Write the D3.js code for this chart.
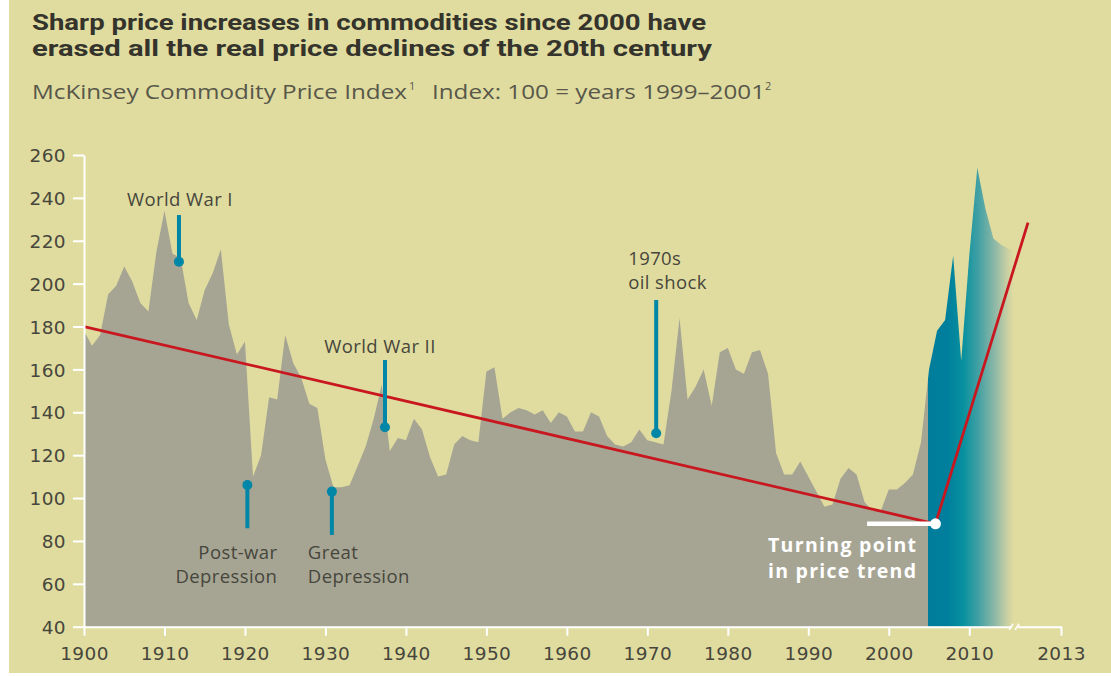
<!DOCTYPE html>
<html>
<head>
<meta charset="utf-8">
<script src="https://cdn.jsdelivr.net/npm/d3@7"></script>
<style>
  html, body { margin: 0; padding: 0; background: #ffffff; }
  svg { display: block; }
</style>
</head>
<body>
<script>
// ---------------- DATA ----------------
const years = [
  1900,1901,1902,1903,1904,1905,1906,1907,1908,1909,
  1910,1911,1912,1913,1914,1915,1916,1917,1918,1919,
  1920,1921,1922,1923,1924,1925,1926,1927,1928,1929,
  1930,1931,1932,1933,1934,1935,1936,1937,1938,1939,
  1940,1941,1942,1943,1944,1945,1946,1947,1948,1949,
  1950,1951,1952,1953,1954,1955,1956,1957,1958,1959,
  1960,1961,1962,1963,1964,1965,1966,1967,1968,1969,
  1970,1971,1972,1973,1974,1975,1976,1977,1978,1979,
  1980,1981,1982,1983,1984,1985,1986,1987,1988,1989,
  1990,1991,1992,1993,1994,1995,1996,1997,1998,1999,
  2000,2001,2002,2003,2004,2005,2006,2007,2008,2009,
  2010,2011,2012,2013,2014,2015
];
const priceIndex = [
  178,171,176,195,199,208,201,191,187,215,
  234,214,212,191,183,197,205,216,181,167,
  173,110,120,147,146,176,163,156,144,142,
  118,105,105,106,115,124,137,153,122,128,
  127,137,132,119,110,111,125,129,127,126,
  159,161,137,140,142,141,139,141,135,140,
  138,131,131,140,138,129,125,124,126,132,
  127,126,125,150,184,146,152,160,143,168,
  170,160,158,168,169,158,121,111,111,117,
  110,103,96,97,109,114,111,98,94,94,
  104,104,107,111,126,160,178,183,213,164,
  213,254,235,221,218,216
];

// Trend line (red): long decline, then turning point and sharp rise
const trendYears  = [1900, 2005.8, 2017.3];
const trendValues = [180, 88, 228.5];

// Turning point marker
const turnStartYear = 1997.3;
const turnYear = 2005.8;
const turnValue = 88;

// Axis ticks
const yTickValues = [40,60,80,100,120,140,160,180,200,220,240,260];
const xTickValues = [1900,1910,1920,1930,1940,1950,1960,1970,1980,1990,2000,2010,2021.4];
const xTickLabels = ["1900","1910","1920","1930","1940","1950","1960","1970","1980","1990","2000","2010","2013"];
const axisBreakYear = 2015.7;
const recentStartYear = 2004.85;

// Annotations: year of the marker, value of the dot, value of the line's other end
const annYears   = [1911.8, 1920.3, 1930.8, 1937.4, 1971.1];
const annDots    = [210.2, 106.1, 103.0, 133.0, 130.2];
const annEnds    = [232.0, 85.9, 82.8, 164.4, 192.4];
const annLabels  = [["World War I"], ["Post-war","Depression"], ["Great","Depression"], ["World War II"], ["1970s","oil shock"]];

const titleLines = ["Sharp price increases in commodities since 2000 have",
                    "erased all the real price declines of the 20th century"];
const subtitleA = "McKinsey Commodity Price Index";
const subtitleB = "Index: 100 = years 1999\u20132001";
const turnLabel = ["Turning point", "in price trend"];

// ---------------- STYLE ----------------
const W = 1111, H = 676;
const BG = "#e0dc9f";
const GRAY = "#a6a594";
const TEAL = "#0086a6";
const RED = "#c8171f";
const TEXT = "#47463c";

const svg = d3.select("body").append("svg").attr("width", W).attr("height", H);

svg.append("rect").attr("x", 9).attr("y", 0).attr("width", W - 9).attr("height", 673).attr("fill", BG);

const x = d3.scaleLinear().domain([1900, 2021.4]).range([84, 1061]);
const y = d3.scaleLinear().domain([40, 260]).range([626.7, 155]);

// gradient for area
const defs = svg.append("defs");
const gx1 = x(1900), gx2 = x(2015.6);
const off = yr => (x(yr) - gx1) / (gx2 - gx1);
const grad = defs.append("linearGradient").attr("id", "areaGrad")
  .attr("gradientUnits", "userSpaceOnUse")
  .attr("x1", gx1).attr("x2", gx2).attr("y1", 0).attr("y2", 0);
[
  [0, GRAY], [off(recentStartYear), GRAY],
  [off(recentStartYear), "#007d9b"], [off(2007.3), "#007f9c"],
  [off(2009.3), "#08919f"], [off(2011.2), "#45a1a4"],
  [off(2013.3), "#92baa7"], [off(2015.0), "#d2d4a2"], [1, BG]
].forEach(s => grad.append("stop").attr("offset", s[0]).attr("stop-color", s[1]));

const series = years.map((yr, i) => ({yr, v: priceIndex[i]}));
const lastYr = years[years.length - 1] + 0.5;
const areaData = series.concat([{yr: lastYr, v: priceIndex[priceIndex.length - 1] - 0.5}]);

svg.append("path")
  .datum(areaData)
  .attr("fill", "url(#areaGrad)")
  .attr("d", d3.area().x(d => x(d.yr)).y0(y(40)).y1(d => y(d.v)));

// trend line
svg.append("path")
  .datum(trendYears.map((yr, i) => ({yr, v: trendValues[i]})))
  .attr("fill", "none").attr("stroke", RED).attr("stroke-width", 2.8)
  .attr("stroke-linejoin", "round")
  .attr("d", d3.line().x(d => x(d.yr)).y(d => y(d.v)));

// annotations
const labelFont = "'Open Sans', sans-serif";
const annLayout = [
  {anchor: "middle", dx: 1,   dys: [-9]},
  {anchor: "end",    dx: 30,  dys: [31, 55]},
  {anchor: "start",  dx: -24, dys: [24, 48]},
  {anchor: "middle", dx: -5,  dys: [-7]},
  {anchor: "start",  dx: -28, dys: [-35, -11]}
];
annYears.forEach((yr, i) => {
  const g = svg.append("g");
  const cx = x(yr);
  g.append("line").attr("x1", cx).attr("x2", cx)
    .attr("y1", y(annDots[i])).attr("y2", y(annEnds[i]))
    .attr("stroke", TEAL).attr("stroke-width", 4);
  g.append("circle").attr("cx", cx).attr("cy", y(annDots[i])).attr("r", 5).attr("fill", TEAL);
  const L = annLayout[i];
  annLabels[i].forEach((t, j) => {
    g.append("text").attr("x", cx + L.dx).attr("y", y(annEnds[i]) + L.dys[j])
      .attr("text-anchor", L.anchor)
      .attr("font-family", labelFont).attr("font-size", 18.5).attr("fill", TEXT)
      .attr("letter-spacing", 0.4)
      .text(t);
  });
});

// axes
const tickFont = "'DejaVu Sans', sans-serif";
const yAxis = svg.append("g").attr("transform", `translate(${x(1900)},0)`)
  .call(d3.axisLeft(y).tickValues(yTickValues).tickSize(11).tickSizeOuter(0).tickPadding(7));
const xAxis = svg.append("g").attr("transform", `translate(0,${y(40)})`)
  .call(d3.axisBottom(x).tickValues(xTickValues).tickFormat((d, i) => xTickLabels[i]).tickSize(9).tickSizeOuter(0));
[yAxis, xAxis].forEach(a => {
  a.select(".domain").attr("stroke", "#ffffff").attr("stroke-width", 2);
  a.selectAll(".tick line").attr("stroke", "#ffffff").attr("stroke-width", 2);
  a.selectAll(".tick text").attr("fill", TEXT).attr("font-family", tickFont)
    .attr("font-size", 18.5).attr("letter-spacing", 0.4);
});
xAxis.selectAll(".tick text").attr("y", 33).attr("dy", 0);
yAxis.selectAll(".tick text").attr("dy", "0.36em");

// axis break
const bx = x(axisBreakYear), by = y(40);
svg.append("rect").attr("x", bx - 3).attr("y", by - 3).attr("width", 6).attr("height", 6).attr("fill", BG);
[-4, 2].forEach(o => {
  svg.append("line").attr("x1", bx + o - 2).attr("y1", by + 3).attr("x2", bx + o + 2).attr("y2", by - 3)
    .attr("stroke", "#ffffff").attr("stroke-width", 1.6);
});

// turning point marker
svg.append("line").attr("x1", x(turnStartYear)).attr("x2", x(turnYear))
  .attr("y1", y(turnValue)).attr("y2", y(turnValue))
  .attr("stroke", "#ffffff").attr("stroke-width", 4.5);
svg.append("circle").attr("cx", x(turnYear)).attr("cy", y(turnValue)).attr("r", 5.5).attr("fill", "#ffffff");
turnLabel.forEach((t, j) => {
  svg.append("text").attr("x", 916).attr("y", 552 + j * 26).attr("text-anchor", "end")
    .attr("font-family", "'Open Sans', sans-serif").attr("font-weight", 700).attr("font-size", 19.5)
    .attr("fill", "#ffffff").attr("textLength", 148).attr("lengthAdjust", "spacing").text(t);
});

// titles
const titleFont = "Roboto, 'Liberation Sans', sans-serif";
svg.append("text").attr("x", 32).attr("y", 30).attr("font-family", titleFont).attr("font-weight", 700)
  .attr("font-size", 21.5).attr("fill", "#34332c").attr("textLength", 674).attr("lengthAdjust", "spacingAndGlyphs")
  .text(titleLines[0]);
svg.append("text").attr("x", 32).attr("y", 56).attr("font-family", titleFont).attr("font-weight", 700)
  .attr("font-size", 21.5).attr("fill", "#34332c").attr("textLength", 680).attr("lengthAdjust", "spacingAndGlyphs")
  .text(titleLines[1]);

const subFont = "'Open Sans', sans-serif";
const SUBC = "#58574a";
svg.append("text").attr("x", 32).attr("y", 99).attr("font-family", subFont).attr("font-weight", 400)
  .attr("font-size", 19.5).attr("fill", SUBC).attr("textLength", 375).attr("lengthAdjust", "spacingAndGlyphs")
  .text(subtitleA);
svg.append("text").attr("x", 409).attr("y", 90).attr("font-family", subFont).attr("font-weight", 400)
  .attr("font-size", 11).attr("fill", SUBC).text("1");
svg.append("text").attr("x", 432).attr("y", 99).attr("font-family", subFont).attr("font-weight", 400)
  .attr("font-size", 19.5).attr("fill", SUBC).attr("textLength", 333).attr("lengthAdjust", "spacingAndGlyphs")
  .text(subtitleB);
svg.append("text").attr("x", 765).attr("y", 90).attr("font-family", subFont).attr("font-weight", 400)
  .attr("font-size", 11).attr("fill", SUBC).text("2");
</script>
</body>
</html>
